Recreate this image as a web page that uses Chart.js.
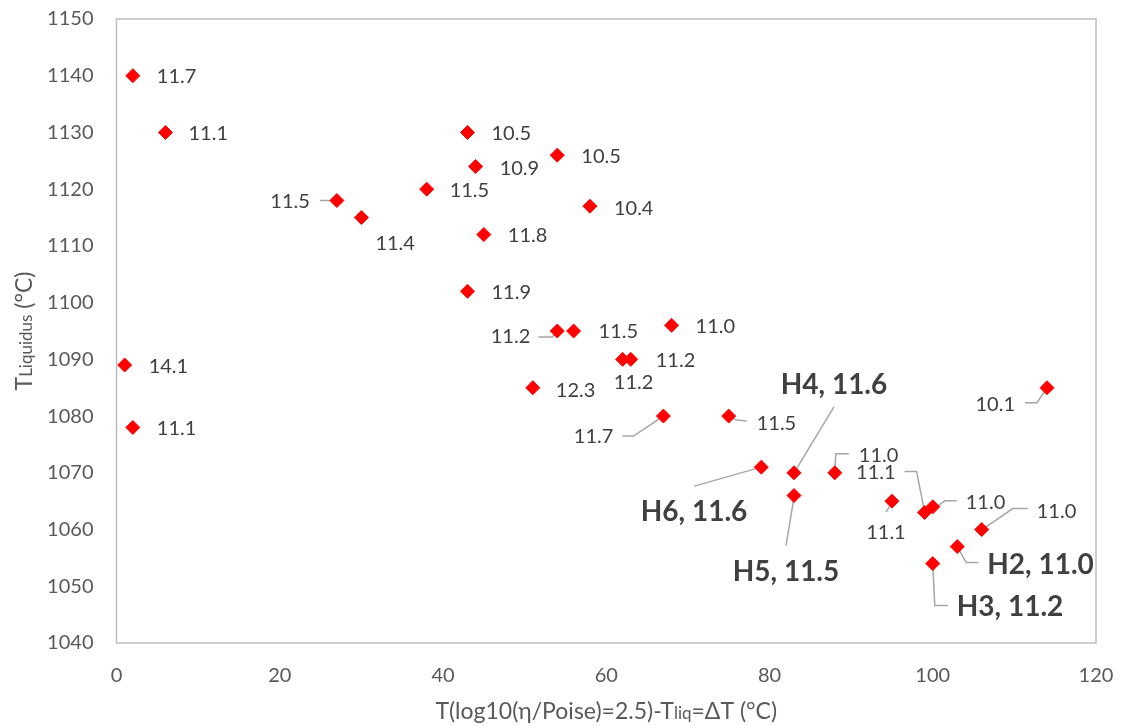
<!DOCTYPE html>
<html lang="en">
<head>
    <meta charset="UTF-8">
    <title>TLiquidus vs ΔT</title>
    <script src="https://cdn.jsdelivr.net/npm/chart.js"></script>
    <style>
        body { margin: 0; background: #fff; }
        #chart-container { width: 1126px; height: 726px; }
    </style>
</head>
<body>

<div id="chart-container">
    <canvas id="liquidusChart"></canvas>
</div>

<script>
    // ΔT = T(log10(η/Poise)=2.5) - Tliq  (°C)
    const deltaT = [2, 6, 27, 30, 38, 43, 44, 54, 58, 45, 43, 54, 56, 68, 1, 2,
                    51, 62, 63, 67, 75, 79, 83, 83, 88, 95, 99, 100, 106, 103, 100, 114];
    // T liquidus (°C)
    const tLiquidus = [1140, 1130, 1118, 1115, 1120, 1130, 1124, 1126, 1117, 1112, 1102, 1095, 1095, 1096, 1089, 1078,
                       1085, 1090, 1090, 1080, 1080, 1071, 1070, 1066, 1070, 1065, 1063, 1064, 1060, 1057, 1054, 1085];
    // value written next to each point
    const pointValue = [11.7, 11.1, 11.5, 11.4, 11.5, 10.5, 10.9, 10.5, 10.4, 11.8, 11.9, 11.2, 11.5, 11.0, 14.1, 11.1,
                        12.3, 11.2, 11.2, 11.7, 11.5, 11.6, 11.6, 11.5, 11.0, 11.1, 11.1, 11.0, 11.0, 11.0, 11.2, 10.1];
    // sample names (only the H glasses are named)
    const sampleId = ['', '', '', '', '', '', '', '', '', '', '', '', '', '', '', '',
                      '', '', '', '', '', 'H6', 'H4', 'H5', '', '', '', '', '', 'H2', 'H3', ''];

    const xTicks = [0, 20, 40, 60, 80, 100, 120];
    const yTicks = [1040, 1050, 1060, 1070, 1080, 1090, 1100, 1110, 1120, 1130, 1140, 1150];

    // label placement: [dx, dy, align, leader line (offsets from the point)]
    const labelLayout = [
        [24, 1, 'left'], [23, 1, 'left'],
        [-27, 1, 'right', [[-17, 0], [-4, 0]]],
        [14, 26, 'left'], [23, 1, 'left'], [24, 1, 'left'], [24, 2, 'left'],
        [24, 1, 'left'], [24, 2, 'left'], [24, 1, 'left'], [24, 1, 'left'],
        [-27, 6, 'right', [[-19, 6], [-5, 6], [0, 0]]],
        [25, 1, 'left'], [24, 1, 'left'], [24, 2, 'left'], [24, 1, 'left'],
        [23, 3, 'left'], [11, 23, 'center'], [25, 1, 'left'],
        [-50, 20, 'right', [[-41, 20], [-30, 20], [-3, 2]]],
        [28, 7, 'left', [[1, 1], [8, 4], [18, 5]]],
        [-14, 45, 'right', [[-67, 19], [0, 0]]],
        [40, -88, 'center', [[40, -66], [0, 0]]],
        [-8, 76, 'center', [[-8, 50], [0, 2]]],
        [24, -17, 'left', [[0, 0], [1, -19], [14, -19]]],
        [-6, 31, 'center', [[-6, 11], [0, 2]]],
        [-29, -40, 'right', [[-20, -41], [-8, -41], [0, -1]]],
        [33, -4, 'left', [[4, 0], [12, -6], [24, -6]]],
        [55, -18, 'left', [[2, -1], [31, -21], [46, -21]]],
        [30, 18, 'left', [[0, 0], [9, 16], [21, 16]]],
        [24, 43, 'left', [[0, 0], [2, 42], [15, 42]]],
        [-32, 17, 'right', [[0, 0], [-10, 15], [-22, 15]]]
    ];

    const FONT = 'Lato, "Open Sans", sans-serif';
    const points = deltaT.map((x, i) => ({ x: x, y: tLiquidus[i] }));
    const labelText = pointValue.map((v, i) => sampleId[i] ? sampleId[i] + ', ' + v.toFixed(1) : v.toFixed(1));

    // mixed size text (for the subscripts in the axis titles)
    function drawRuns(ctx, runs, cx, baseline) {
        let total = 0;
        runs.forEach(r => { ctx.font = r[1] + 'px ' + FONT; total += ctx.measureText(r[0]).width; });
        let x = cx - total / 2;
        ctx.textAlign = 'left';
        ctx.textBaseline = 'alphabetic';
        runs.forEach(r => {
            ctx.font = r[1] + 'px ' + FONT;
            ctx.fillText(r[0], x, baseline);
            x += ctx.measureText(r[0]).width;
        });
    }

    const excelLook = {
        id: 'excelLook',
        beforeDatasetsDraw(chart) {
            const ctx = chart.ctx;
            const a = chart.chartArea;
            ctx.save();
            ctx.strokeStyle = '#bfbfbf';
            ctx.lineWidth = 1.5;
            ctx.strokeRect(a.left, a.top, a.right - a.left, a.bottom - a.top);

            // leader lines
            const meta = chart.getDatasetMeta(0);
            ctx.strokeStyle = '#a6a6a6';
            ctx.lineWidth = 1.5;
            meta.data.forEach((el, i) => {
                const lead = labelLayout[i][3];
                if (!lead) return;
                ctx.beginPath();
                lead.forEach((p, k) => {
                    if (k === 0) ctx.moveTo(el.x + p[0], el.y + p[1]);
                    else ctx.lineTo(el.x + p[0], el.y + p[1]);
                });
                ctx.stroke();
            });
            ctx.restore();
        },
        afterDatasetsDraw(chart) {
            const ctx = chart.ctx;
            const meta = chart.getDatasetMeta(0);
            ctx.save();
            ctx.fillStyle = '#404040';
            ctx.textBaseline = 'middle';
            meta.data.forEach((el, i) => {
                const l = labelLayout[i];
                ctx.font = sampleId[i] ? 'bold 28px ' + FONT : '20px ' + FONT;
                ctx.textAlign = l[2];
                ctx.fillText(labelText[i], el.x + l[0], el.y + l[1]);
            });

            // axis titles
            const a = chart.chartArea;
            ctx.fillStyle = '#595959';
            drawRuns(ctx, [['T(log10(η/Poise)=2.5)-T', 23], ['liq', 17], ['=ΔT (°C)', 23]], (a.left + a.right) / 2, 719);
            ctx.translate(32, (a.top + a.bottom) / 2);
            ctx.rotate(-Math.PI / 2);
            drawRuns(ctx, [['T', 23], ['Liquidus', 17], [' (°C)', 23]], 0, 0);
            ctx.restore();
        }
    };

    new Chart(document.getElementById('liquidusChart'), {
        type: 'scatter',
        data: {
            datasets: [{
                data: points,
                pointStyle: 'rectRot',
                pointRadius: 7,
                pointHoverRadius: 7,
                backgroundColor: '#ff0000',
                borderColor: '#ff0000',
                borderWidth: 1
            }]
        },
        options: {
            responsive: true,
            maintainAspectRatio: false,
            animation: false,
            layout: { padding: { top: 19, right: 30, left: 0, bottom: 0 } },
            plugins: {
                legend: { display: false },
                tooltip: { enabled: false }
            },
            scales: {
                x: {
                    type: 'linear',
                    min: xTicks[0],
                    max: xTicks[xTicks.length - 1],
                    afterBuildTicks: s => { s.ticks = xTicks.map(v => ({ value: v })); },
                    afterFit: s => { s.height = 83; s.paddingLeft = 0; s.paddingRight = 0; },
                    grid: { display: false, drawTicks: false },
                    border: { display: false },
                    ticks: { color: '#595959', font: { family: FONT, size: 20 }, padding: 21, callback: v => String(v) }
                },
                y: {
                    min: yTicks[0],
                    max: yTicks[yTicks.length - 1],
                    afterBuildTicks: s => { s.ticks = yTicks.map(v => ({ value: v })); },
                    afterFit: s => { s.width = 116.5; s.paddingTop = 0; s.paddingBottom = 0; },
                    grid: { display: false, drawTicks: false },
                    border: { display: false },
                    ticks: { color: '#595959', font: { family: FONT, size: 20 }, padding: 23, callback: v => String(v) }
                }
            }
        },
        plugins: [excelLook]
    });
</script>

</body>
</html>
